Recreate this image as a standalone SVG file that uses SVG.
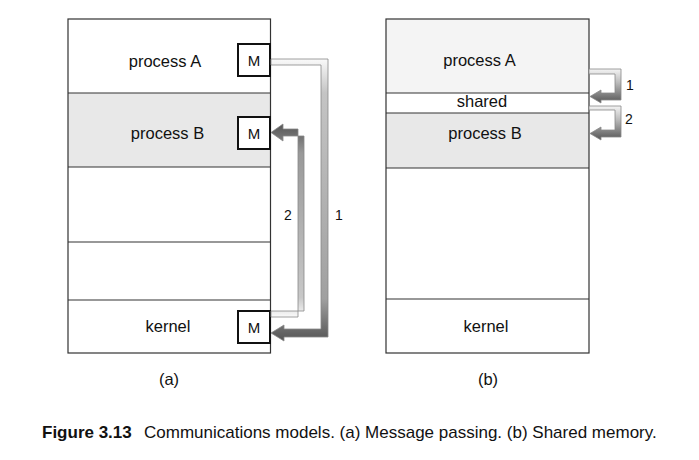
<svg xmlns="http://www.w3.org/2000/svg" width="699" height="460" viewBox="0 0 699 460">
<style>
.lbl{font-family:"Liberation Sans",Arial,sans-serif;font-size:16.5px;fill:#111;text-anchor:middle}
.m{font-family:"Liberation Sans",Arial,sans-serif;font-size:15px;fill:#111;text-anchor:middle}
.num{font-family:"Liberation Sans",Arial,sans-serif;font-size:14px;fill:#111;text-anchor:middle}
.cap{font-family:"Liberation Sans",Arial,sans-serif;font-size:17px;fill:#111}
.frame{fill:none;stroke:#333;stroke-width:1.2}
.div{stroke:#333;stroke-width:1.2}
.mbox{fill:#fff;stroke:#111;stroke-width:2}
.arr{stroke:#888;stroke-width:0.8;stroke-linejoin:miter}
</style>
<defs>
<linearGradient id="gDown" x1="0" y1="0" x2="0" y2="1">
<stop offset="0" stop-color="#fafafa"/>
<stop offset="0.12" stop-color="#c4c4c4"/>
<stop offset="0.85" stop-color="#a0a0a0"/>
<stop offset="1" stop-color="#555"/>
</linearGradient>
<linearGradient id="gUp" x1="0" y1="1" x2="0" y2="0">
<stop offset="0" stop-color="#fafafa"/>
<stop offset="0.1" stop-color="#c8c8c8"/>
<stop offset="0.85" stop-color="#999"/>
<stop offset="1" stop-color="#555"/>
</linearGradient>
<linearGradient id="gShort" x1="0" y1="0" x2="0" y2="1">
<stop offset="0" stop-color="#f4f4f4"/>
<stop offset="0.4" stop-color="#bbb"/>
<stop offset="1" stop-color="#555"/>
</linearGradient>
</defs>

<g id="panel-a">
<g id="a-processA">
<rect x="68" y="19" width="202.5" height="74" fill="#fff"/>
<text class="lbl" x="165" y="67">process A</text>
</g>
<g id="a-processB">
<rect x="68" y="93" width="202.5" height="74" fill="#e8e8e8"/>
<text class="lbl" x="167.5" y="139">process B</text>
</g>
<g id="a-free">
<rect x="68" y="167" width="202.5" height="133" fill="#fff"/>
</g>
<g id="a-kernel">
<rect x="68" y="300" width="202.5" height="53" fill="#fff"/>
<text class="lbl" x="168" y="332">kernel</text>
</g>
<rect class="frame" x="68" y="19" width="202.5" height="334"/>
<line class="div" x1="68" y1="93" x2="270.5" y2="93"/>
<line class="div" x1="68" y1="167" x2="270.5" y2="167"/>
<line class="div" x1="68" y1="242" x2="270.5" y2="242"/>
<line class="div" x1="68" y1="300" x2="270.5" y2="300"/>
<g id="a-MA">
<rect class="mbox" x="238" y="44" width="32" height="32"/>
<text class="m" x="254" y="66">M</text>
</g>
<g id="a-MB">
<rect class="mbox" x="238" y="117" width="32" height="32"/>
<text class="m" x="254" y="139">M</text>
</g>
<g id="a-MK">
<rect class="mbox" x="238" y="311" width="32" height="32"/>
<text class="m" x="254" y="333">M</text>
</g>
</g>

<g id="panel-b">
<g id="b-processA">
<rect x="386" y="19" width="203" height="74" fill="#f4f4f4"/>
<text class="lbl" x="479.5" y="66">process A</text>
</g>
<g id="b-shared">
<rect x="386" y="93" width="203" height="20" fill="#fff"/>
<text class="lbl" x="482" y="106.5">shared</text>
</g>
<g id="b-processB">
<rect x="386" y="113" width="203" height="55" fill="#e8e8e8"/>
<text class="lbl" x="485" y="139">process B</text>
</g>
<g id="b-free">
<rect x="386" y="168" width="203" height="131" fill="#fff"/>
</g>
<g id="b-kernel">
<rect x="386" y="299" width="203" height="54" fill="#fff"/>
<text class="lbl" x="486" y="332">kernel</text>
</g>
<rect class="frame" x="386" y="19" width="203" height="334"/>
<line class="div" x1="386" y1="93" x2="589" y2="93"/>
<line class="div" x1="386" y1="113" x2="589" y2="113"/>
<line class="div" x1="386" y1="168" x2="589" y2="168"/>
<line class="div" x1="386" y1="299" x2="589" y2="299"/>
</g>

<g id="connectors">
<polygon class="arr" fill="url(#gDown)" points="271,59 328,59 328,337 284,337 284,341 271,333 284,325 284,329 321,329 321,65 271,65"/>
<polygon class="arr" fill="url(#gUp)" points="271,311 304,311 304,136 283,136 283,141 271,132.5 283,124 283,129 298,129 298,317 271,317"/>
<polygon class="arr" fill="url(#gShort)" points="589,69 621,69 621,100 601,100 601,103 590,96.5 601,90 601,93 615,93 615,74 589,74"/>
<polygon class="arr" fill="url(#gShort)" points="589,106 621,106 621,137 601,137 601,140 590,133.5 601,127 601,130 615,130 615,110 589,110"/>
<text class="num" x="288" y="220">2</text>
<text class="num" x="339" y="220">1</text>
<text class="num" x="630" y="90">1</text>
<text class="num" x="629" y="124">2</text>
</g>

<text class="lbl" x="169" y="385">(a)</text>
<text class="lbl" x="488" y="385">(b)</text>
<text class="cap" x="42" y="438"><tspan font-weight="bold">Figure 3.13</tspan><tspan x="144">Communications models. (a) Message passing. (b) Shared memory.</tspan></text>
</svg>
